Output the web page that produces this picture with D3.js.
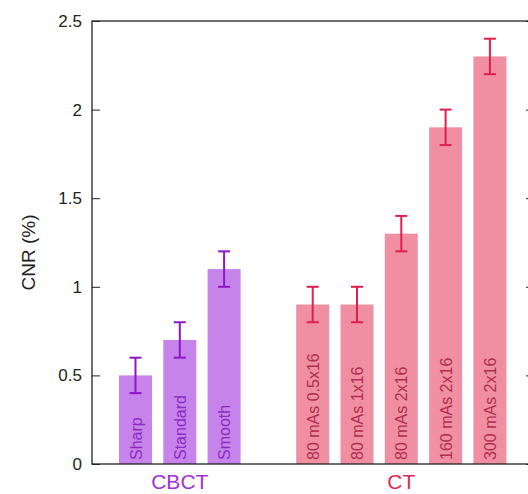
<!DOCTYPE html>
<html><head><meta charset="utf-8">
<script src="https://cdn.jsdelivr.net/npm/d3@7"></script>
<style>body{margin:0;background:#fff}svg{display:block}text{font-family:"Liberation Sans",Arial,sans-serif}</style>
</head><body><svg id="c" width="528" height="494"></svg>
<script>
const categories = ["Sharp","Standard","Smooth","80 mAs 0.5x16","80 mAs 1x16","80 mAs 2x16","160 mAs 2x16","300 mAs 2x16"];
const groups = ["CBCT","CBCT","CBCT","CT","CT","CT","CT","CT"];
const values = [0.5,0.7,1.1,0.9,0.9,1.3,1.9,2.3];
const errors = [0.1,0.1,0.1,0.1,0.1,0.1,0.1,0.1];
const yTicks = [0,0.5,1,1.5,2,2.5];
const groupNames = ["CBCT","CT"];

const colors = {
  CBCT:{bar:"#c683ea",err:"#8e14c8",text:"#8a2cc0",label:"#a32fd8"},
  CT:{bar:"#ef8fa1",err:"#de1f50",text:"#b02e50",label:"#dc2a55"}
};

const svg = d3.select("#c");
const L=92, R=534, T=21, B=464;
const slots = categories.slice(0,3).concat(["__gap"], categories.slice(3));
const x = d3.scaleBand().domain(slots).range([113.35, 512.05]).paddingInner(0.255).paddingOuter(0.1275);
const y = d3.scaleLinear().domain([0,2.5]).range([B,T]);

const data = categories.map((c,i)=>({c, g:groups[i], v:values[i], e:errors[i]}));
svg.selectAll("rect.bar").data(data).enter().append("rect")
  .attr("x",d=>x(d.c)).attr("width",x.bandwidth())
  .attr("y",d=>y(d.v)).attr("height",d=>B-y(d.v))
  .attr("fill",d=>colors[d.g].bar);

const cxf = d=>x(d.c)+x.bandwidth()/2;
const eg = svg.selectAll("g.err").data(data).enter().append("g")
  .attr("stroke",d=>colors[d.g].err).attr("stroke-width",2);
eg.append("line").attr("x1",cxf).attr("x2",cxf)
  .attr("y1",d=>y(d.v-d.e)).attr("y2",d=>y(d.v+d.e));
eg.append("line").attr("x1",d=>cxf(d)-6).attr("x2",d=>cxf(d)+6)
  .attr("y1",d=>y(d.v-d.e)).attr("y2",d=>y(d.v-d.e));
eg.append("line").attr("x1",d=>cxf(d)-6).attr("x2",d=>cxf(d)+6)
  .attr("y1",d=>y(d.v+d.e)).attr("y2",d=>y(d.v+d.e));

svg.selectAll("text.in").data(data).enter().append("text")
  .attr("transform",d=>`translate(${cxf(d)+6},${B-4}) rotate(-90)`)
  .attr("font-size",16).attr("fill",d=>colors[d.g].text).text(d=>d.c);

svg.append("rect").attr("x",L).attr("y",T).attr("width",R-L).attr("height",B-T)
  .attr("fill","none").attr("stroke","#222").attr("stroke-width",1.3);

const yAxis = d3.axisLeft(y).tickValues(yTicks).tickFormat(d=>String(d)).tickSize(-8).tickPadding(10);
const ga = svg.append("g").attr("transform",`translate(${L},0)`).call(yAxis);
ga.select(".domain").remove();
ga.selectAll("text").attr("font-size",17).attr("fill","#222").attr("font-family","Liberation Sans, Arial, sans-serif");
ga.selectAll("line").attr("stroke","#222");
const yAxisR = d3.axisRight(y).tickValues(yTicks).tickFormat("").tickSize(-8);
const gr = svg.append("g").attr("transform",`translate(${R},0)`).call(yAxisR);
gr.select(".domain").remove();
gr.selectAll("line").attr("stroke","#222");

groupNames.forEach(g=>{
  const cs = categories.filter((c,i)=>groups[i]===g);
  const cx = (x(cs[0]) + x(cs[cs.length-1]) + x.bandwidth())/2;
  svg.append("text").attr("x",cx).attr("y",489).attr("text-anchor","middle")
    .attr("font-size",21).attr("fill",colors[g].label).text(g);
});

svg.append("text").attr("transform",`translate(35,${(T+B)/2+10}) rotate(-90)`)
  .attr("text-anchor","middle").attr("font-size",19).attr("fill","#222").text("CNR (%)");
</script></body></html>
